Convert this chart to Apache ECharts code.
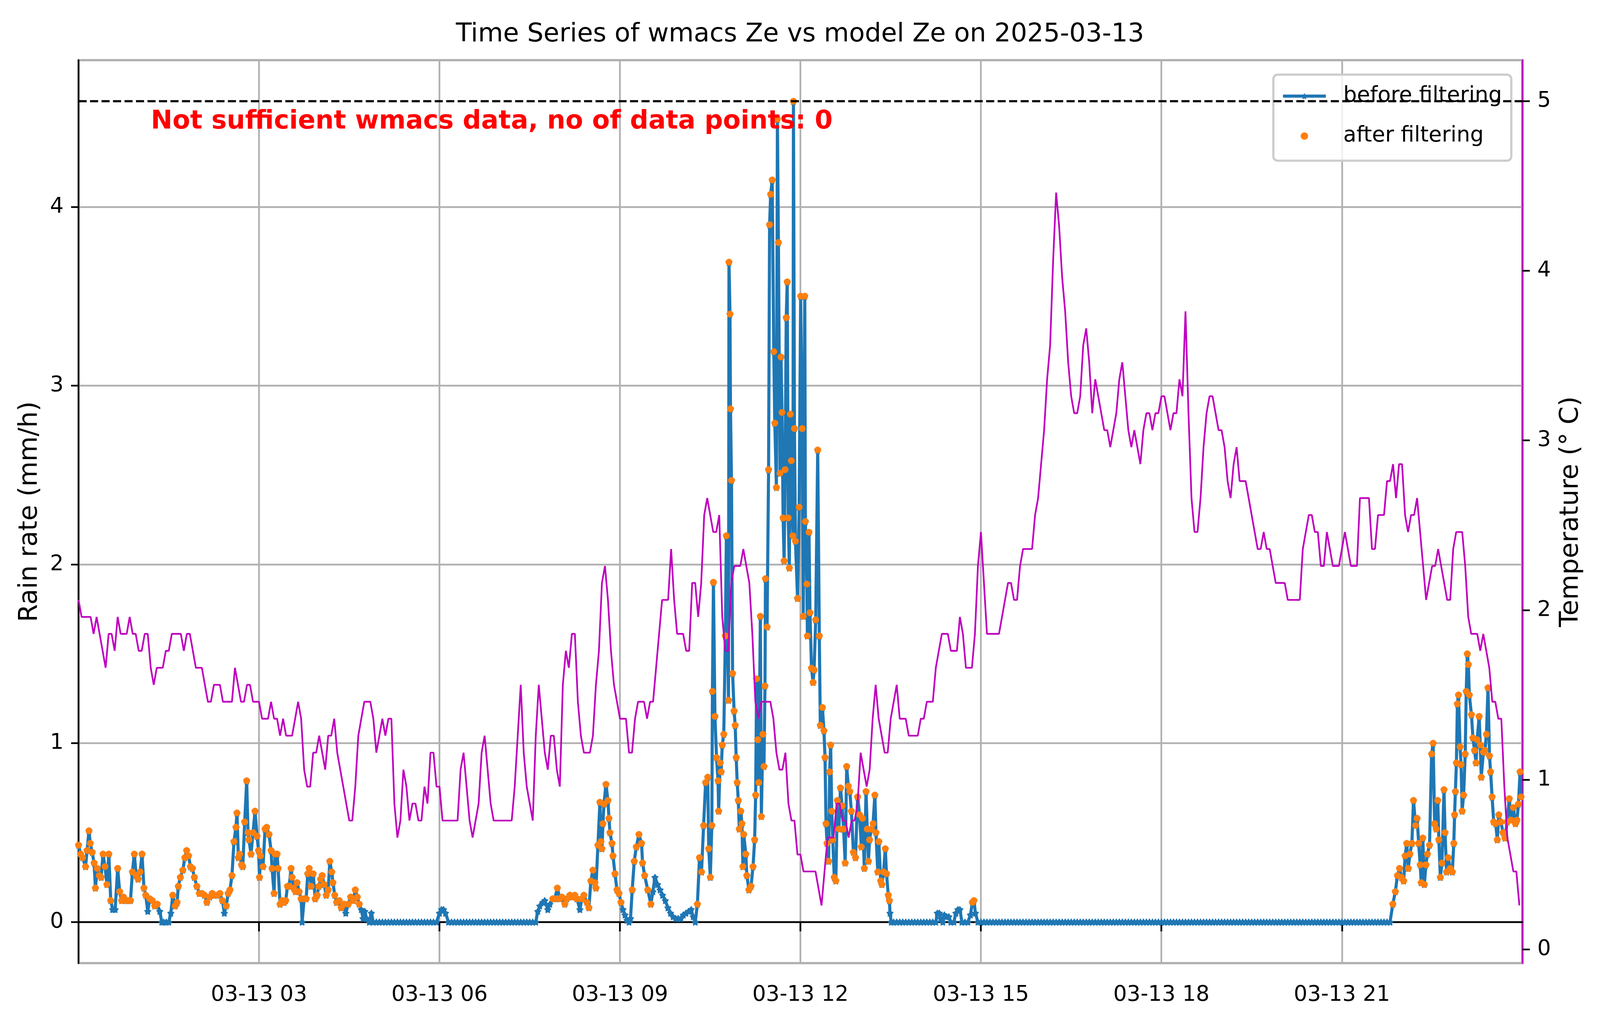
<!DOCTYPE html>
<html>
<head>
<meta charset="utf-8">
<script src="https://cdn.jsdelivr.net/npm/echarts@6/dist/echarts.min.js"></script>
<style>
  html, body { margin: 0; padding: 0; background: #fff; overflow: hidden; }
  #main { width: 100vw; height: 100vh; }
</style>
</head>
<body>
<div id="main"></div>
<script>
// x axis in minutes after 2025-03-13 00:00
let xTickLabels = ["03-13 03", "03-13 06", "03-13 09", "03-13 12", "03-13 15", "03-13 18", "03-13 21"];

// rain rate readings [minute, mm/h] (non-dry part of the day)
let rainReadings = [
  [0,0.43],[2,0.38],[4,0.36],[7,0.31],[8.5,0.40],[10.4,0.51],[11.7,0.44],[13.6,0.39],[15.5,0.33],[16.8,0.19],
  [18.7,0.30],[20.6,0.26],[22.5,0.25],[24.4,0.38],[26.4,0.31],[28.3,0.21],[30.2,0.38],[32.1,0.12],[34,0.07],[36.5,0.07],
  [39,0.30],[41,0.17],[43,0.12],[44.8,0.14],[46.7,0.12],[49.3,0.12],[51.8,0.12],[53.7,0.28],[55.6,0.38],[57.5,0.26],
  [59.4,0.24],[61.4,0.28],[63.3,0.38],[65.2,0.19],[67,0.15],[69,0.06],[71,0.13],[73.5,0.12],[76,0.09],[78.5,0.10],
  [81,0.06],[83,0],[85,0],[87.5,0],[90,0],[92,0.05],[94,0.15],[96.4,0.09],[98.3,0.11],[99.5,0.20],
  [101.5,0.25],[104,0.29],[106,0.36],[107.8,0.40],[109.7,0.37],[111.6,0.31],[113.5,0.30],[115.5,0.25],[118,0.20],[120.5,0.16],
  [123,0.16],[125.6,0.15],[128,0.11],[130.7,0.14],[133.3,0.16],[135.8,0.15],[138.4,0.15],[141,0.16],[143.5,0.12],[145.4,0.05],
  [147.3,0.09],[149.2,0.16],[151,0.18],[153,0.26],[155,0.45],[157,0.53],[158,0.61],[159.4,0.36],[160.6,0.38],[162.6,0.32],
  [163.8,0.31],[165.7,0.56],[167.7,0.79],[169,0.50],[170,0.46],[172,0.38],[174,0.50],[176,0.62],[178,0.48],[179.5,0.40],
  [180.5,0.25],[181.5,0.37],[184,0.31],[186,0.52],[187.6,0.53],[190,0.49],[192,0.40],[193,0.30],[195,0.16],[196,0.38],
  [198,0.38],[199,0.30],[201,0.10],[203,0.12],[205,0.11],[206.6,0.12],[208.4,0.20],[210,0.20],[212,0.30],[213,0.25],
  [214.5,0.19],[216.4,0.17],[218,0.22],[220,0.17],[222,0.13],[223,0],[225,0.13],[227,0.13],[228.6,0.27],[230,0.30],
  [232,0.20],[234,0.27],[236,0.13],[238,0.15],[239.6,0.20],[241.4,0.24],[243,0.26],[245,0.21],[247,0.15],[249,0.18],
  [250.6,0.34],[252.5,0.28],[253.7,0.22],[255.5,0.15],[257.4,0.11],[260,0.12],[262,0.08],[264.7,0.10],[266.5,0.05],[269,0.10],
  [271.4,0.14],[274,0.12],[276,0.18],[278,0.14],[280,0.10],[282,0.07],[283.7,0.02],[285.5,0.06],[287.3,0.02],[290,0],
  [292,0.05],[294,0],
  [360,0.05],[362,0.07],[364,0.07],[366,0.05],
  [458,0.06],[460,0.09],[463,0.11],[465,0.12],[468,0.07],[470,0.10],[473,0.13],[475,0.13],[477.5,0.19],[480,0.13],
  [482,0.14],[485,0.10],[487,0.13],[490,0.15],[492,0.14],[495,0.15],[497,0.13],[500,0.07],[502,0.13],[504,0.15],
  [507,0.11],[509,0.08],[511,0.23],[513,0.29],[515,0.22],[516,0.19],[518,0.43],[520,0.67],[521,0.45],[522,0.41],
  [523,0.55],[524,0.66],[526,0.77],[528,0.68],[529,0.58],[530,0.50],[532,0.44],[533,0.37],[535,0.27],[537,0.18],
  [539,0.16],[541,0.11],[543,0.07],[545,0.04],[547,0.01],[549,0],[550.5,0.02],[552.2,0.18],[554.2,0.34],[556.3,0.42],
  [558.9,0.49],[561.5,0.44],[562.5,0.33],[564.6,0.26],[567.7,0.18],[570.8,0.10],[572.8,0.17],[574.9,0.25],[577.5,0.21],[580,0.18],
  [582.5,0.15],[585.2,0.12],[587.8,0.08],[590.4,0.05],[593,0.03],[595.5,0.02],[598,0.02],[600.7,0.02],[603.2,0.04],[605.8,0.05],
  [608.4,0.06],[611,0.07],[613,0.03],[615.1,0],[617.2,0.10],[619.3,0.36],[621.3,0.28],[623.4,0.54],[625.4,0.78],[627.5,0.81],
  [628.5,0.41],[630.1,0.25],[631.6,0.54],[632.2,1.29],[633.2,1.90],[634.7,1.15],[636.3,0.92],[637.8,0.79],[638.4,0.62],[639.9,0.89],
  [640.9,0.84],[642,0.99],[643.5,1.05],[645.1,1.60],[646.1,2.16],[648.2,1.24],[648.7,3.69],[649.7,3.40],[650.2,2.87],[651.2,2.47],
  [652.3,1.39],[653.8,1.18],[654.9,1.10],[655.9,0.92],[656.9,0.78],[658,0.68],[659,0.52],[660.5,0.62],[661.6,0.55],[662.6,0.31],
  [663.4,0.49],[665.5,0.38],[666.5,0.26],[668.6,0.18],[670.7,0.20],[672.7,0.31],[674.3,0.46],[675.3,0.71],[676.3,1.36],[677.4,1.02],
  [678.4,0.78],[680,1.71],[681,0.59],[682.5,1.05],[683.6,0.87],[684.6,1.32],[685.1,1.92],[686.7,1.65],[688.2,2.53],[689.2,3.90],
  [690.3,4.07],[691.8,4.15],[693.4,3.19],[694.4,2.79],[696,2.43],[697,4.49],[698,3.80],[699.6,2.51],[700.6,3.16],[701.6,2.85],
  [702.7,2.26],[703.7,2.02],[704.7,2.53],[705.8,3.38],[706.8,3.58],[707.8,2.26],[708.9,1.98],[709.9,2.84],[710.9,2.58],[712.5,2.16],
  [713,4.59],[714,2.76],[715,2.13],[717.1,1.81],[718.7,2.32],[720.2,3.50],[721.8,2.76],[722.8,1.71],[724.3,3.50],[724.9,2.24],
  [726.4,1.89],[726.9,1.60],[728.5,2.18],[729.5,1.73],[731,1.42],[732.6,1.34],[733.6,1.41],[735.2,1.69],[737.2,2.64],[738.8,1.60],
  [739.8,1.10],[741.9,1.20],[743.4,1.07],[744.5,0.92],[745.5,0.55],[746.5,0.44],[748.1,0.34],[749.1,0.84],[750.1,0.99],[751.2,0.62],
  [752.2,0.46],[753.7,0.25],[755.3,0.23],[756.8,0.68],[758.4,0.52],[759.9,0.75],[761.5,0.65],[763,0.52],[764.6,0.33],[766.1,0.87],
  [767.7,0.76],[769.2,0.73],[770.8,0.62],[772.8,0.39],[774.9,0.36],[777,0.70],[779,0.60],[780.7,0.42],[781.9,0.58],[783.7,0.30],
  [785.4,0.73],[786.6,0.52],[787.8,0.34],[788.9,0.46],[790.7,0.52],[792.4,0.55],[794.2,0.71],[795.3,0.50],[797.1,0.28],[798.2,0.45],
  [800,0.23],[801.2,0.21],[802.9,0.28],[804.6,0.41],[805.8,0.27],[807.6,0.15],[808.7,0.12],[809.3,0.05],[810.5,0],
  [856.5,0.05],[858.5,0.05],[860,0.02],[863.5,0.04],[865.5,0.03],[868,0.03],[875,0.05],[877,0.07],[879,0.07],
  [889.5,0.04],[891.5,0.11],[893,0.12],[894.5,0.05],
  [1310.8,0.10],[1313.3,0.17],[1315.4,0.26],[1317.5,0.30],[1319.5,0.25],[1321.6,0.23],[1323.1,0.37],[1324.7,0.44],[1326.2,0.30],[1327.8,0.38],
  [1329.8,0.44],[1331.4,0.68],[1333.5,0.54],[1335,0.58],[1336.6,0.44],[1338.1,0.32],[1339.1,0.22],[1340.7,0.47],[1342.2,0.21],[1343.8,0.32],
  [1345.3,0.38],[1347.4,0.43],[1349.5,0.94],[1351,1.00],[1352.5,0.55],[1354.1,0.52],[1355.6,0.68],[1356.7,0.46],[1358.2,0.25],[1359.8,0.33],
  [1361.8,0.74],[1362.9,0.50],[1364.4,0.28],[1366,0.36],[1368,0.30],[1370.1,0.28],[1371.6,0.44],[1372.4,0.60],[1373.2,0.73],[1374.2,0.89],
  [1375.2,1.22],[1376.3,1.27],[1377.8,0.98],[1378.9,0.88],[1379.9,0.62],[1381.4,0.71],[1383,0.94],[1384,1.29],[1385.1,1.50],[1386.1,1.44],
  [1387.1,1.27],[1389.2,1.16],[1390.7,1.03],[1392.3,0.96],[1393.8,0.89],[1394.9,1.02],[1396.9,1.15],[1398,0.99],[1399,0.81],[1401.1,0.95],
  [1402.6,0.96],[1404.2,1.05],[1405.7,1.31],[1407.2,0.93],[1408.3,0.84],[1409.8,0.70],[1411.4,0.56],[1413.4,0.55],[1415,0.46],[1416.5,0.60],
  [1418.6,0.56],[1420.7,0.50],[1422.7,0.47],[1424.8,0.56],[1426.9,0.69],[1428.9,0.57],[1431,0.64],[1433.1,0.55],[1434.6,0.57],[1436.1,0.66],
  [1437.7,0.84],[1438.7,0.70]
];

// minutes where the gauge read exactly 0 mm/h
let dryMinutes = [
  297,300,303,306,309,312,315,318,321,324,327,330,333,336,339,342,345,348,351,354,357,
  369,372,375,378,381,384,387,390,393,396,399,402,405,408,411,414,417,420,423,426,429,432,435,438,441,444,447,450,453,456,
  813,816,819,822,825,828,831,834,837,840,843,846,849,852,855,862,870,873,881,884,887,897,
  900,903,906,909,912,915,918,921,924,927,930,933,936,939,942,945,948,951,954,957,960,963,966,969,972,975,978,981,984,987,
  990,993,996,999,1002,1005,1008,1011,1014,1017,1020,1023,1026,1029,1032,1035,1038,1041,1044,1047,1050,1053,1056,1059,1062,1065,
  1068,1071,1074,1077,1080,1083,1086,1089,1092,1095,1098,1101,1104,1107,1110,1113,1116,1119,1122,1125,1128,1131,1134,1137,1140,1143,
  1146,1149,1152,1155,1158,1161,1164,1167,1170,1173,1176,1179,1182,1185,1188,1191,1194,1197,1200,1203,1206,1209,1212,1215,1218,1221,
  1224,1227,1230,1233,1236,1239,1242,1245,1248,1251,1254,1257,1260,1263,1266,1269,1272,1275,1278,1281,1284,1287,1290,1293,1296,1299,
  1302,1305,1308
];

// filtering: readings below minKeptRain or inside these minute windows were dropped
let minKeptRain = 0.08;
let filterGaps = [[455, 471], [572, 616]];

// temperature (deg C), one value every tempStepMinutes from 00:00
let tempStepMinutes = 3;
let temperature = [
  2.06,1.96,1.96,1.96,1.96,1.86,1.96,1.86,1.76,1.66,1.86,1.86,1.76,1.96,1.86,1.86,1.86,1.96,1.86,1.86,
  1.76,1.76,1.86,1.86,1.66,1.56,1.66,1.66,1.66,1.76,1.76,1.86,1.86,1.86,1.86,1.76,1.86,1.86,1.76,1.66,
  1.66,1.66,1.56,1.46,1.46,1.56,1.56,1.56,1.46,1.46,1.46,1.46,1.66,1.56,1.46,1.46,1.56,1.56,1.46,1.46,
  1.46,1.36,1.36,1.36,1.46,1.36,1.36,1.26,1.36,1.26,1.26,1.26,1.36,1.46,1.36,1.06,0.96,0.96,1.16,1.16,
  1.26,1.16,1.06,1.26,1.26,1.36,1.16,1.06,0.96,0.86,0.76,0.76,0.96,1.26,1.36,1.46,1.46,1.46,1.36,1.16,
  1.26,1.36,1.26,1.36,1.36,0.86,0.66,0.76,1.06,0.96,0.76,0.86,0.86,0.76,0.76,0.96,0.86,1.16,1.16,0.96,
  0.96,0.76,0.76,0.76,0.76,0.76,0.76,1.06,1.16,0.96,0.76,0.66,0.76,0.86,1.16,1.26,1.06,0.86,0.76,0.76,
  0.76,0.76,0.76,0.76,0.76,0.96,1.26,1.56,1.16,0.96,0.86,0.76,1.26,1.56,1.36,1.16,1.06,1.26,1.26,1.06,
  0.96,1.56,1.76,1.66,1.86,1.86,1.46,1.26,1.16,1.16,1.16,1.26,1.56,1.76,2.16,2.26,2.06,1.76,1.56,1.46,
  1.36,1.36,1.36,1.16,1.16,1.36,1.46,1.46,1.46,1.36,1.46,1.46,1.66,1.86,2.06,2.06,2.06,2.36,2.06,1.86,
  1.86,1.86,1.76,1.76,2.16,2.16,1.96,2.16,2.56,2.66,2.56,2.46,2.46,2.56,1.96,1.76,1.76,2.16,2.26,2.26,
  2.26,2.36,2.26,2.16,1.86,1.46,1.36,1.46,1.46,1.46,1.46,1.36,1.16,1.06,1.06,1.16,0.86,0.76,0.76,0.56,
  0.56,0.46,0.46,0.46,0.46,0.46,0.36,0.26,0.46,0.66,0.66,0.66,0.86,0.86,0.76,0.76,0.66,0.76,0.76,0.86,
  1.16,1.06,0.96,1.06,1.36,1.56,1.36,1.26,1.16,1.16,1.36,1.46,1.56,1.36,1.36,1.36,1.26,1.26,1.26,1.26,
  1.36,1.36,1.46,1.46,1.46,1.66,1.76,1.86,1.86,1.86,1.76,1.76,1.76,1.96,1.86,1.66,1.66,1.66,1.86,2.26,
  2.46,2.16,1.86,1.86,1.86,1.86,1.86,1.96,2.06,2.16,2.16,2.06,2.06,2.26,2.36,2.36,2.36,2.36,2.56,2.66,
  2.86,3.06,3.36,3.56,4.06,4.46,4.26,3.96,3.76,3.46,3.26,3.16,3.16,3.26,3.56,3.66,3.46,3.16,3.36,3.26,
  3.16,3.06,3.06,2.96,3.06,3.16,3.36,3.46,3.26,3.06,2.96,3.06,2.96,2.86,3.06,3.16,3.16,3.06,3.16,3.16,
  3.26,3.26,3.16,3.06,3.16,3.16,3.36,3.26,3.76,3.16,2.66,2.46,2.46,2.66,2.96,3.16,3.26,3.26,3.16,3.06,
  3.06,2.96,2.76,2.66,2.86,2.96,2.76,2.76,2.76,2.66,2.56,2.46,2.36,2.36,2.46,2.36,2.36,2.26,2.16,2.16,
  2.16,2.16,2.06,2.06,2.06,2.06,2.06,2.36,2.46,2.56,2.56,2.46,2.46,2.26,2.26,2.46,2.36,2.26,2.26,2.26,
  2.36,2.46,2.36,2.26,2.26,2.26,2.66,2.66,2.66,2.66,2.36,2.36,2.56,2.56,2.56,2.76,2.76,2.86,2.66,2.86,
  2.86,2.56,2.46,2.56,2.56,2.66,2.46,2.26,2.06,2.16,2.26,2.26,2.36,2.26,2.16,2.06,2.06,2.36,2.46,2.46,
  2.46,2.26,1.96,1.86,1.86,1.86,1.76,1.86,1.76,1.66,1.46,1.46,1.36,1.36,0.96,0.66,0.56,0.46,0.46,0.26
];

// dashed reference line on the temperature axis
let tempLimit = 5;

let rainData = rainReadings.concat(dryMinutes.map(function (m) { return [m, 0]; }));
rainData.sort(function (a, b) { return a[0] - b[0]; });

let filteredData = rainData.filter(function (p) {
  if (p[1] < minKeptRain) return false;
  for (let g of filterGaps) {
    if (p[0] >= g[0] && p[0] <= g[1]) return false;
  }
  return true;
});

let tempData = temperature.map(function (t, i) { return [i * tempStepMinutes, t]; });

// layout was measured on the 5153 x 2631 picture; scale to the real viewport
let el = document.getElementById("main");
let sx = el.clientWidth / 5153;
let sy = el.clientHeight / 2631;
function px(v) { return v * sx; }
function py(v) { return v * sy; }

let font = "DejaVu Sans";
let tickFont = px(69);
let bigFont = px(83);
// a fairly plump five-point star, like the small matplotlib '*' marker
let star = "path://M0,-10L3.53,-4.85L9.51,-3.09L5.71,1.85L5.88,8.09L0,6L-5.88,8.09L-5.71,1.85L-9.51,-3.09L-3.53,-4.85Z";

var myChart = echarts.init(el);

var option = {
  animation: false,
  backgroundColor: "#fff",
  title: {
    text: "Time Series of wmacs Ze vs model Ze on 2025-03-13",
    left: "center",
    top: py(89) - bigFont / 2,
    padding: 0,
    textStyle: { fontFamily: font, fontSize: bigFont, fontWeight: "normal", color: "#000", lineHeight: bigFont },
  },
  legend: {
    data: ["before filtering", "after filtering"],
    orient: "vertical",
    left: px(4101),
    top: py(191),
    padding: [py(246) - py(191) - tickFont / 2, px(30), py(411) - py(348) - tickFont / 2, px(26)],
    itemGap: py(102) - tickFont,
    itemWidth: px(138),
    itemHeight: px(24),
    backgroundColor: "rgba(255,255,255,0.8)",
    borderColor: "#cccccc",
    borderWidth: px(7),
    borderRadius: px(14),
    lineStyle: { width: px(10) },
    textStyle: { fontFamily: font, fontSize: tickFont, color: "#000", lineHeight: tickFont, padding: [0, 0, 0, px(50)] },
  },
  grid: {
    left: px(253),
    right: px(250),
    top: py(154),
    bottom: py(166),
    show: true,
    borderColor: "#000",
    borderWidth: px(5.5),
  },
  graphic: [
    {
      type: "text",
      z: 10,
      style: {
        text: "Not sufficient wmacs data, no of data points: 0",
        x: px(486),
        y: py(312),
        verticalAlign: "middle",
        fill: "#ff0000",
        font: "bold " + bigFont + "px \"DejaVu Sans\"",
      },
    },
  ],
  xAxis: {
    type: "value",
    min: 0,
    max: 1440,
    interval: 180,
    axisLine: { show: true, lineStyle: { color: "#000", width: px(5.5) } },
    axisTick: { show: true, length: py(24), lineStyle: { color: "#000", width: px(5.5) } },
    axisLabel: {
      margin: py(82) - tickFont / 2,
      fontFamily: font,
      fontSize: tickFont,
      color: "#000",
      lineHeight: tickFont,
      showMinLabel: false,
      showMaxLabel: false,
      formatter: function (v) {
        let i = Math.round(v / 180) - 1;
        return i >= 0 && i < xTickLabels.length ? xTickLabels[i] : "";
      },
    },
    splitLine: { show: true, lineStyle: { color: "#b0b0b0", width: px(5.5) } },
  },
  yAxis: [
    {
      type: "value",
      min: -0.23,
      max: 4.82,
      splitNumber: 5,
      name: "Rain rate (mm/h)",
      nameLocation: "middle",
      nameRotate: 90,
      nameGap: px(115),
      nameTextStyle: { fontFamily: font, fontSize: bigFont, color: "#000" },
      axisLine: { show: true, lineStyle: { color: "#000", width: px(5.5) } },
      axisTick: { show: true, length: px(24), lineStyle: { color: "#000", width: px(5.5) } },
      axisLabel: { margin: px(48), fontFamily: font, fontSize: tickFont, color: "#000", showMinLabel: false, showMaxLabel: false },
      splitLine: { show: true, lineStyle: { color: "#b0b0b0", width: px(5.5) } },
    },
    {
      type: "value",
      position: "right",
      min: -0.08,
      max: 5.24,
      splitNumber: 5,
      name: "Temperature (° C)",
      nameLocation: "middle",
      nameRotate: 90,
      nameGap: px(115),
      nameTextStyle: { fontFamily: font, fontSize: bigFont, color: "#000" },
      axisLine: { show: true, lineStyle: { color: "#bf00bf", width: px(5.5) } },
      axisTick: { show: true, length: px(24), lineStyle: { color: "#000", width: px(5.5) } },
      axisLabel: { margin: px(48), fontFamily: font, fontSize: tickFont, color: "#000", showMinLabel: false, showMaxLabel: false },
      splitLine: { show: false },
    },
  ],
  series: [
    {
      name: "before filtering",
      type: "line",
      data: rainData,
      yAxisIndex: 0,
      z: 2,
      symbol: star,
      symbolSize: px(24),
      showSymbol: true,
      lineStyle: { color: "#1f77b4", width: px(10) },
      itemStyle: { color: "#1f77b4" },
      emphasis: { disabled: true },
    },
    {
      name: "after filtering",
      type: "scatter",
      data: filteredData,
      yAxisIndex: 0,
      z: 3,
      symbol: "circle",
      symbolSize: px(22),
      itemStyle: { color: "#ff7f0e", opacity: 1 },
      emphasis: { disabled: true },
    },
    {
      name: "Temperature",
      type: "line",
      data: tempData,
      yAxisIndex: 1,
      z: 6,
      showSymbol: false,
      symbol: "none",
      lineStyle: { color: "#bf00bf", width: px(5.5) },
      itemStyle: { color: "#bf00bf" },
      emphasis: { disabled: true },
      markLine: {
        silent: true,
        symbol: ["none", "none"],
        label: { show: false },
        lineStyle: { color: "#000", type: [px(26), px(11)], width: px(7) },
        data: [{ yAxis: tempLimit }],
      },
    },
  ],
};

myChart.setOption(option);
</script>
</body>
</html>
